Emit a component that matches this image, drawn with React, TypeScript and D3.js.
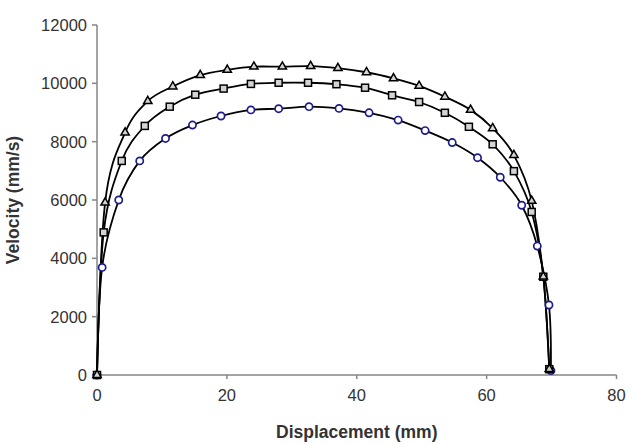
import * as d3 from "d3"

// displacement (mm) / velocity (mm/s)
const triDisp = [0, 1.25, 4.33, 7.82, 11.67, 15.9, 20.06, 24.16, 28.54, 32.9, 37.1, 41.5, 45.66, 49.6, 53.57, 57.53, 60.93, 64.2, 66.94, 68.73, 69.65]
const triVel = [0, 5910, 8310, 9390, 9890, 10280, 10460, 10570, 10570, 10590, 10520, 10380, 10170, 9910, 9540, 9090, 8460, 7540, 5970, 3370, 200]

const sqDisp = [0, 1.03, 3.81, 7.36, 11.2, 15.13, 19.5, 23.7, 27.97, 32.5, 36.87, 41.28, 45.44, 49.6, 53.57, 57.27, 60.93, 64.2, 66.94, 68.73, 69.65]
const sqVel = [0, 4890, 7340, 8540, 9200, 9610, 9820, 9980, 10020, 10020, 9970, 9850, 9590, 9360, 8990, 8510, 7910, 6990, 5590, 3370, 200]

const circDisp = [0, 0.79, 3.35, 6.58, 10.55, 14.7, 19.1, 23.7, 27.97, 32.65, 37.27, 41.9, 46.37, 50.53, 54.7, 58.6, 62.1, 65.4, 67.8, 69.6, 69.9]
const circVel = [0, 3690, 6000, 7340, 8110, 8570, 8880, 9090, 9130, 9200, 9140, 8990, 8740, 8380, 7970, 7450, 6780, 5820, 4420, 2400, 150]

const xTicks = [0, 20, 40, 60, 80]
const yTicks = [0, 2000, 4000, 6000, 8000, 10000, 12000]

const W = 632
const H = 444
const margin = { top: 25, right: 15.5, bottom: 69, left: 97 }

type Pt = [number, number]
const zip = (xs: number[], ys: number[]): Pt[] => xs.map((x, i) => [x, ys[i]])

export default function App() {
  const x = d3.scaleLinear().domain([0, 80]).range([margin.left, W - margin.right])
  const y = d3.scaleLinear().domain([0, 12000]).range([H - margin.bottom, margin.top])
  const line = d3.line<Pt>()
    .x(d => x(d[0]))
    .y(d => y(d[1]))
    .curve(d3.curveCardinal.tension(0))

  const tri = zip(triDisp, triVel)
  const sq = zip(sqDisp, sqVel)
  const circ = zip(circDisp, circVel)
  const textCol = "#333"
  const axisCol = "#868686"
  const font = "'Liberation Sans', Arial, sans-serif"

  return (
    <svg width={W} height={H} style={{ position: "absolute", left: 0, top: 0, background: "#fff" }}
      fontFamily={font}>
      {/* axes */}
      <line x1={x(0)} x2={x(80)} y1={y(0)} y2={y(0)} stroke={axisCol} strokeWidth={1.5} />
      <line x1={x(0)} x2={x(0)} y1={y(0)} y2={y(12000)} stroke={axisCol} strokeWidth={1.5} />
      {yTicks.map(t => (
        <g key={"y" + t}>
          <line x1={x(0) - 5} x2={x(0)} y1={y(t)} y2={y(t)} stroke={axisCol} strokeWidth={1.5} />
          <text x={x(0) - 10} y={y(t)} dy="0.36em" textAnchor="end" fontSize={16.5} fill={textCol}>{t}</text>
        </g>
      ))}
      {xTicks.map(t => (
        <g key={"x" + t}>
          <line x1={x(t)} x2={x(t)} y1={y(0)} y2={y(0) + 4} stroke={axisCol} strokeWidth={1.5} />
          <text x={x(t)} y={y(0) + 26} textAnchor="middle" fontSize={16.5} fill={textCol}>{t}</text>
        </g>
      ))}
      <text x={(x(0) + x(80)) / 2} y={438} textAnchor="middle" fontSize={17.5} fontWeight="bold" fill={textCol}>
        Displacement (mm)
      </text>
      <text transform={`translate(19,${(y(0) + y(12000)) / 2}) rotate(-90)`} textAnchor="middle"
        fontSize={17.5} fontWeight="bold" fill={textCol}>
        Velocity (mm/s)
      </text>

      {/* curves */}
      {[tri, sq, circ].map((s, i) => (
        <path key={i} d={line(s) || ""} fill="none" stroke="#000" strokeWidth={1.8} />
      ))}

      {/* markers */}
      {circ.map((d, i) => (
        <circle key={"c" + i} cx={x(d[0])} cy={y(d[1])} r={3.6} fill="#fff" stroke="#1c1c8c" strokeWidth={1.7} />
      ))}
      {sq.map((d, i) => (
        <rect key={"s" + i} x={x(d[0]) - 3.5} y={y(d[1]) - 3.5} width={7} height={7}
          fill="#d4d4d4" stroke="#000" strokeWidth={1.5} />
      ))}
      {tri.map((d, i) => (
        <path key={"t" + i} transform={`translate(${x(d[0])},${y(d[1])})`}
          d={d3.symbol(d3.symbolTriangle, 30)() || ""} fill="#d4d4d4" stroke="#000" strokeWidth={1.5} />
      ))}
    </svg>
  )
}
